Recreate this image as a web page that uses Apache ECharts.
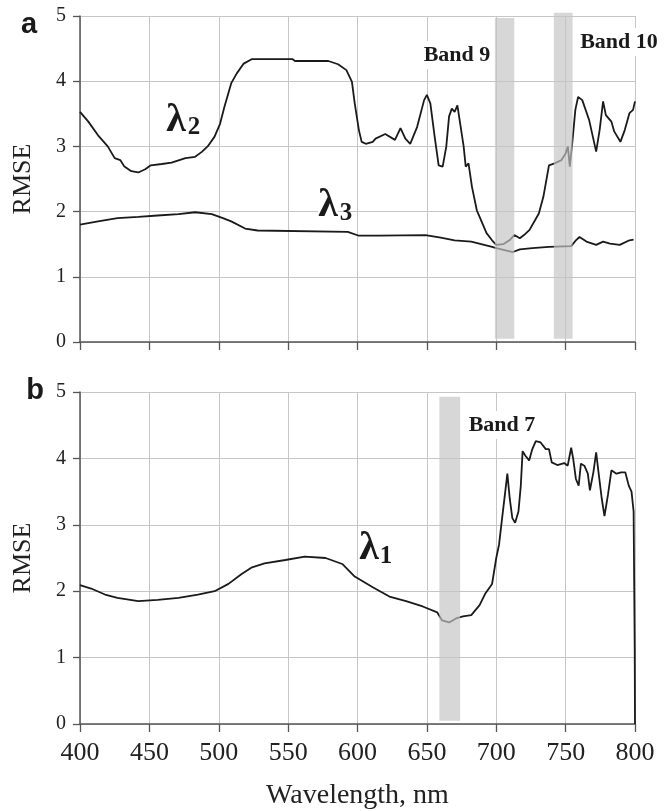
<!DOCTYPE html>
<html>
<head>
<meta charset="utf-8">
<script src="https://cdn.jsdelivr.net/npm/echarts@6/dist/echarts.min.js"></script>
<style>
  html, body { margin: 0; padding: 0; background: #fff; }
  #chart { width: 664px; height: 811px; }
</style>
</head>
<body>
<div id="chart"></div>
<script>
// panel a, lambda 2
const l2Nm = [400, 406, 413, 420, 425, 429, 432, 437, 442, 447, 451, 459, 466, 476, 483, 488, 492, 497, 501, 504, 509, 513, 518, 524, 553, 555, 579, 586, 592, 596, 598, 601, 603, 606, 611, 613, 620, 627, 631, 634.5, 638, 643, 648, 650, 652.5, 655.6, 658.5, 661.4, 664, 666, 668, 670, 672, 674, 676.5, 678, 680, 682.5, 686, 690, 693, 697, 700, 705, 709.5, 713, 717, 720, 724, 730.7, 734, 738, 742, 747, 750, 751.6, 753, 755, 757, 759, 762, 767, 772, 774.5, 777, 779, 783, 785, 789.5, 792.6, 796, 798.6, 800]
const l2Rmse = [3.53, 3.38, 3.17, 3.00, 2.82, 2.79, 2.69, 2.62, 2.60, 2.65, 2.71, 2.73, 2.75, 2.82, 2.84, 2.92, 3.00, 3.15, 3.35, 3.60, 3.97, 4.12, 4.27, 4.34, 4.34, 4.31, 4.31, 4.26, 4.17, 3.99, 3.66, 3.25, 3.07, 3.04, 3.07, 3.12, 3.19, 3.10, 3.28, 3.12, 3.04, 3.30, 3.71, 3.79, 3.66, 3.15, 2.71, 2.69, 3.00, 3.46, 3.58, 3.53, 3.63, 3.35, 3.00, 2.69, 2.74, 2.38, 2.02, 1.82, 1.67, 1.56, 1.49, 1.50, 1.56, 1.64, 1.59, 1.64, 1.72, 1.97, 2.23, 2.71, 2.74, 2.79, 2.89, 3.00, 2.69, 3.10, 3.56, 3.76, 3.71, 3.40, 2.92, 3.25, 3.69, 3.48, 3.38, 3.23, 3.07, 3.25, 3.51, 3.56, 3.69]

// panel a, lambda 3
const l3Nm = [400, 413, 427, 442, 456, 471, 483, 495, 503, 509, 519, 528, 593, 601, 615, 649, 660, 670, 682, 697, 700, 712, 717, 726, 738, 754, 757, 760, 765, 772, 777, 782, 789, 796, 799]
const l3Rmse = [1.80, 1.85, 1.90, 1.92, 1.94, 1.96, 1.99, 1.96, 1.90, 1.85, 1.74, 1.71, 1.69, 1.63, 1.63, 1.64, 1.60, 1.56, 1.54, 1.46, 1.44, 1.38, 1.42, 1.44, 1.46, 1.47, 1.55, 1.61, 1.54, 1.49, 1.54, 1.51, 1.49, 1.56, 1.57]

// panel b, lambda 1
const l1Nm = [400, 408, 418, 427, 442, 456, 471, 485, 497, 507, 516.5, 524, 533, 548, 562, 577, 589, 598, 611, 623, 635, 647, 657.5, 661, 666, 671, 676, 682, 688, 692, 697, 700, 702, 704.5, 707, 708, 709.7, 711.6, 713.6, 716, 717.7, 719, 721, 723.7, 726, 728.5, 732, 735.7, 738, 740, 744, 749, 751.5, 754, 755.5, 757.4, 759.4, 761, 763.5, 766, 767.5, 770, 772, 774, 776, 778, 780.5, 783, 786.6, 790, 793, 795.5, 797.5, 799, 799.8, 800]
const l1Rmse = [2.09, 2.04, 1.95, 1.90, 1.85, 1.87, 1.90, 1.95, 2.00, 2.11, 2.26, 2.36, 2.42, 2.47, 2.52, 2.50, 2.41, 2.22, 2.06, 1.92, 1.85, 1.77, 1.68, 1.56, 1.53, 1.59, 1.62, 1.64, 1.79, 1.96, 2.11, 2.50, 2.70, 3.15, 3.59, 3.77, 3.40, 3.10, 3.03, 3.20, 3.59, 4.11, 4.04, 3.97, 4.14, 4.26, 4.24, 4.14, 4.14, 3.94, 3.90, 3.93, 3.89, 4.16, 3.99, 3.69, 3.59, 3.92, 3.89, 3.77, 3.52, 3.79, 4.09, 3.74, 3.40, 3.13, 3.45, 3.82, 3.77, 3.79, 3.79, 3.59, 3.50, 3.20, 1.12, 0]

// shaded bands: [from nm, to nm, top, bottom]
const bandsA = [[699, 713, 4.97, 0.05], [741.5, 755, 5.05, 0.05]]
const bandsB = [[659, 674, 4.93, 0.05]]

const xTicks = { min: 400, max: 800, interval: 50 }
const yTicks = { min: 0, max: 5, interval: 1 }

const serif = 'Liberation Serif'
const zip = (xs, ys) => xs.map((x, i) => [x, ys[i]])

const bandSeries = (data, idx) => ({
  type: 'custom',
  xAxisIndex: idx,
  yAxisIndex: idx,
  z: 5,
  silent: true,
  data: data,
  renderItem (params, api) {
    const p0 = api.coord([api.value(0), api.value(2)])
    const p1 = api.coord([api.value(1), api.value(3)])
    return {
      type: 'rect',
      shape: { x: p0[0], y: p0[1], width: p1[0] - p0[0], height: p1[1] - p0[1] },
      style: { fill: 'rgba(196,196,196,0.68)' }
    }
  }
})

const lineSeries = (xs, ys, idx) => ({
  type: 'line',
  xAxisIndex: idx,
  yAxisIndex: idx,
  data: zip(xs, ys),
  showSymbol: false,
  symbol: 'none',
  lineStyle: { color: '#1a1a1a', width: 1.8 },
  z: 2
})

const xAxisBase = (idx, showLabel) => ({
  type: 'value',
  gridIndex: idx,
  ...xTicks,
  axisLine: { show: true, onZero: false, lineStyle: { color: '#555', width: 1.5 } },
  axisTick: { show: true, inside: false, length: 8, lineStyle: { color: '#555', width: 1.3 } },
  splitLine: { show: true, lineStyle: { color: '#c6c6c6', width: 1 } },
  axisLabel: { show: showLabel, fontFamily: serif, fontSize: 26, color: '#222', margin: 16 },
  name: showLabel ? 'Wavelength, nm' : '',
  nameLocation: 'middle',
  nameGap: 58,
  nameTextStyle: { fontFamily: serif, fontSize: 28, color: '#222' }
})

const yAxisBase = (idx) => ({
  type: 'value',
  gridIndex: idx,
  ...yTicks,
  axisLine: { show: true, lineStyle: { color: '#555', width: 1.5 } },
  axisTick: { show: true, inside: false, length: 7, lineStyle: { color: '#555', width: 1.3 } },
  splitLine: { show: true, lineStyle: { color: '#c6c6c6', width: 1 } },
  axisLabel: { fontFamily: serif, fontSize: 20, color: '#222', margin: 14 },
  name: 'RMSE',
  nameLocation: 'middle',
  nameRotate: 90,
  nameGap: 44,
  nameTextStyle: { fontFamily: serif, fontSize: 26, color: '#222' }
})

const txt = (text, x, y, size, opts) => ({
  type: 'text',
  x: x,
  y: y,
  z: 20,
  style: Object.assign({
    text: text,
    fontFamily: serif,
    fontSize: size,
    fontWeight: 'bold',
    fill: '#1a1a1a',
    align: 'center',
    verticalAlign: 'middle'
  }, opts || {})
})

const chart = echarts.init(document.getElementById('chart'))
chart.setOption({
  animation: false,
  backgroundColor: '#fff',
  grid: [
    { left: 80, top: 16, width: 555, height: 326 },
    { left: 80, top: 392, width: 555, height: 337 }
  ],
  xAxis: [xAxisBase(0, false), xAxisBase(1, true)],
  yAxis: [yAxisBase(0), yAxisBase(1)],
  series: [
    lineSeries(l2Nm, l2Rmse, 0),
    lineSeries(l3Nm, l3Rmse, 0),
    lineSeries(l1Nm, l1Rmse, 1),
    bandSeries(bandsA, 0),
    bandSeries(bandsB, 1)
  ],
  graphic: [
    txt('a', 29, 25, 29, { fontFamily: 'Liberation Sans' }),
    txt('b', 35, 391, 29, { fontFamily: 'Liberation Sans' }),
    txt('Band 9', 457, 55, 22, { backgroundColor: '#fff', padding: [3, 2] }),
    txt('Band 10', 619, 42, 22, { backgroundColor: '#fff', padding: [3, 2] }),
    txt('Band 7', 502, 425, 22, { backgroundColor: '#fff', padding: [3, 2] }),
    txt('λ', 176, 121, 40),
    txt('2', 194, 128, 25),
    txt('λ', 328, 206, 40, { backgroundColor: '#fff' }),
    txt('3', 346, 214, 25),
    txt('λ', 369, 549, 40, { backgroundColor: '#fff' }),
    txt('1', 386, 557, 25)
  ]
})
</script>
</body>
</html>
